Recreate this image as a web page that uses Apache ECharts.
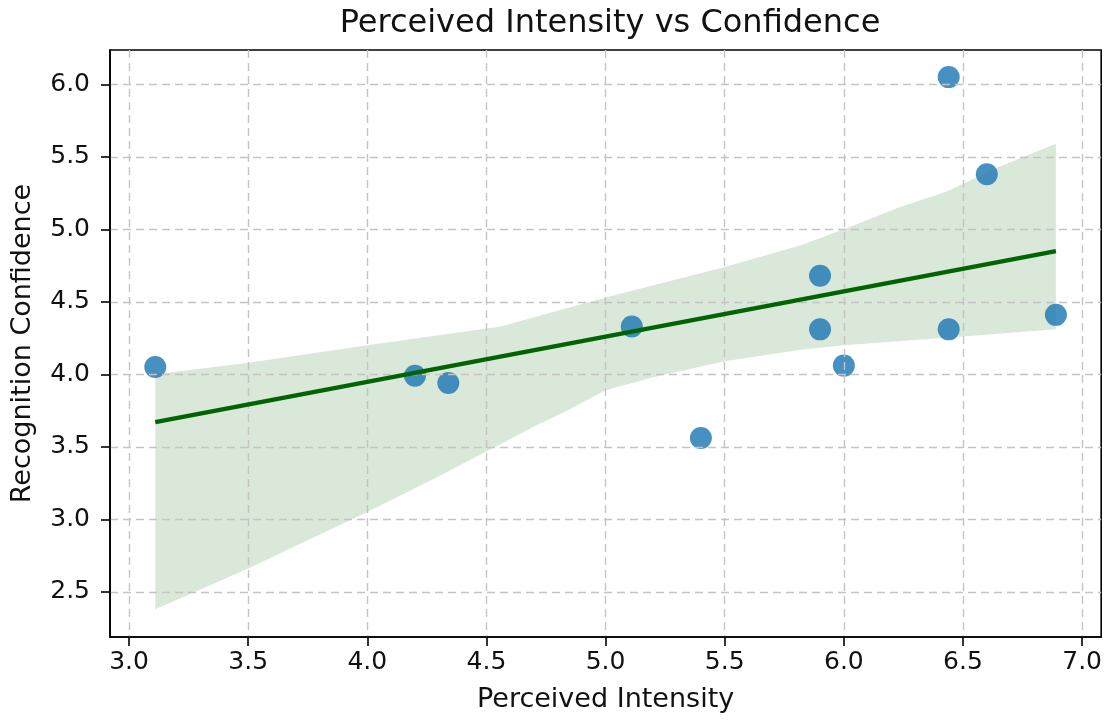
<!DOCTYPE html>
<html>
<head>
<meta charset="utf-8">
<script src="https://cdn.jsdelivr.net/npm/echarts@6/dist/echarts.min.js"></script>
<style>
  html, body { margin: 0; padding: 0; background: #fff; }
  #chart { width: 1105px; height: 721px; }
</style>
</head>
<body>
<div id="chart"></div>
<script>
// scatter points
const intensity = [3.11, 4.2, 4.34, 5.11, 5.4, 5.9, 5.9, 6.0, 6.44, 6.44, 6.6, 6.89];
const confidence = [4.05, 3.99, 3.94, 4.33, 3.56, 4.68, 4.31, 4.06, 6.05, 4.31, 5.38, 4.41];

// regression line ends
const fitX = [3.11, 6.89];
const fitY = [3.67, 4.85];

// confidence band edges
const upperX = [3.11, 3.5, 4.0, 4.56, 5.0, 5.5, 5.82, 6.0, 6.23, 6.43, 6.65, 6.89];
const upperY = [4.00, 4.08, 4.20, 4.33, 4.53, 4.74, 4.89, 5.00, 5.15, 5.26, 5.43, 5.59];
const lowerX = [3.11, 3.5, 4.0, 4.28, 4.56, 4.7, 4.84, 5.0, 5.2, 5.5, 5.82, 6.0, 6.5, 6.89];
const lowerY = [2.38, 2.66, 3.05, 3.28, 3.52, 3.64, 3.75, 3.89, 3.98, 4.09, 4.17, 4.20, 4.26, 4.31];

// tick labels
const xTicks = [3.0, 3.5, 4.0, 4.5, 5.0, 5.5, 6.0, 6.5, 7.0];
const yTicks = [2.5, 3.0, 3.5, 4.0, 4.5, 5.0, 5.5, 6.0];

const font = 'DejaVu Sans';
const ink = '#111';

const chart = echarts.init(document.getElementById('chart'));

const axisCommon = {
  type: 'value',
  z: 3,
  axisLine: { show: true, lineStyle: { color: '#000', width: 1.6 } },
  axisTick: { show: true, length: 9, lineStyle: { color: '#000', width: 1.6 } },
  splitLine: { show: true, lineStyle: { color: '#c4c4c4', width: 1.4, type: [8, 5] } },
  nameLocation: 'middle',
  nameTextStyle: { fontFamily: font, fontSize: 27, color: ink }
};

chart.setOption({
  animation: false,
  backgroundColor: '#fff',
  title: {
    text: 'Perceived Intensity vs Confidence',
    left: 605,
    top: 3,
    textAlign: 'center',
    textStyle: { fontFamily: font, fontSize: 32, fontWeight: 'normal', color: ink }
  },
  grid: {
    left: 110, right: 3, top: 50, bottom: 84,
    show: true, borderColor: '#000', borderWidth: 1.6, backgroundColor: 'transparent'
  },
  xAxis: {
    ...axisCommon,
    min: 2.92, max: 7.08,
    name: 'Perceived Intensity',
    nameGap: 49,
    axisTick: { ...axisCommon.axisTick, customValues: xTicks },
    axisLabel: {
      customValues: xTicks, margin: 13,
      fontFamily: font, fontSize: 25, color: ink,
      formatter: v => v.toFixed(1)
    }
  },
  yAxis: {
    ...axisCommon,
    min: 2.188, max: 6.237,
    name: 'Recognition Confidence',
    nameGap: 74,
    axisTick: { ...axisCommon.axisTick, customValues: yTicks },
    axisLabel: {
      customValues: yTicks, margin: 20,
      fontFamily: font, fontSize: 25, color: ink,
      formatter: v => v.toFixed(1)
    }
  },
  series: [
    {
      type: 'custom',
      z: 1,
      silent: true,
      data: [[upperX[0], upperY[0]]],
      renderItem: function (params, api) {
        const pts = [];
        for (let i = 0; i < upperX.length; i++) pts.push(api.coord([upperX[i], upperY[i]]));
        for (let i = lowerX.length - 1; i >= 0; i--) pts.push(api.coord([lowerX[i], lowerY[i]]));
        return {
          type: 'polygon',
          shape: { points: pts },
          style: { fill: 'rgba(0,100,0,0.15)' }
        };
      }
    },
    {
      type: 'scatter',
      z: 2,
      symbol: 'circle',
      symbolSize: 22,
      data: intensity.map((x, i) => [x, confidence[i]]),
      itemStyle: { color: '#1f77b4', opacity: 0.82 }
    },
    {
      type: 'line',
      z: 5,
      symbol: 'none',
      data: fitX.map((x, i) => [x, fitY[i]]),
      lineStyle: { color: '#006400', width: 4.2 }
    }
  ]
});
</script>
</body>
</html>
